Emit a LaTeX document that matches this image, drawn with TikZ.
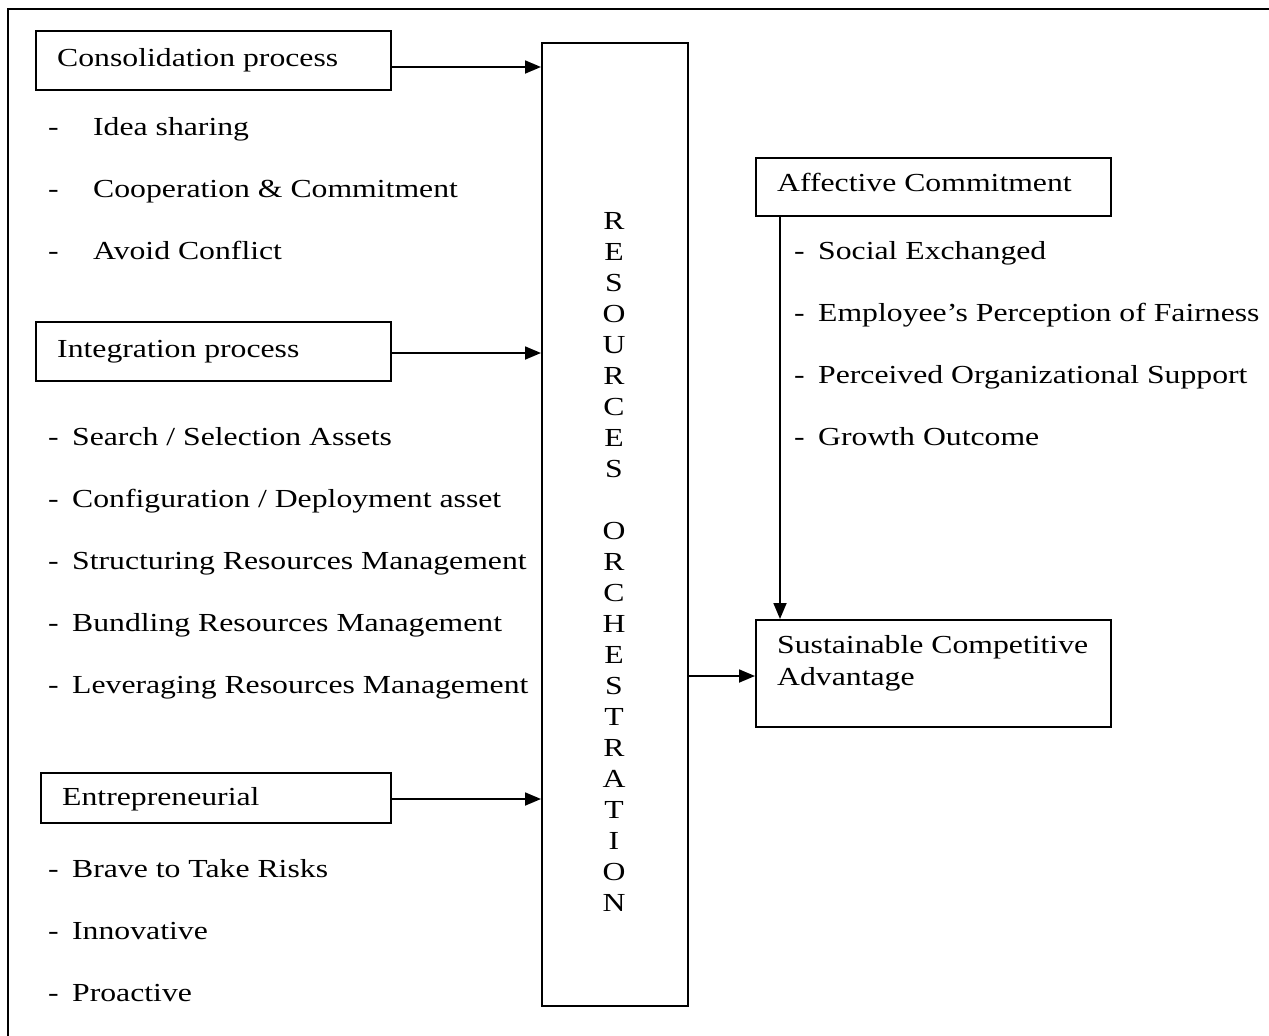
\documentclass[tikz,border=0pt]{standalone}
\usepackage{fontspec}
\setmainfont{Liberation Serif}[FakeStretch=1.22]
\usetikzlibrary{arrows.meta}
\tikzset{
  boxed/.style={draw, line width=1.8pt, inner sep=0pt, anchor=north west},
  txt/.style={anchor=base west, inner sep=0pt, font=\fontsize{26}{31}\selectfont},
  letter/.style={anchor=base, inner sep=0pt, font=\fontsize{26}{31}\selectfont},
  arr/.style={-{Triangle[length=16pt,width=13pt]}, line width=1.8pt},
  frame/.style={line width=1.8pt}
}
\begin{document}
\begin{tikzpicture}[x=1pt,y=-1pt]
\useasboundingbox (0,0) rectangle (1269,1036);
% outer frame
\coordinate (fbl) at (8,1036);
\coordinate (ftl) at (8,9);
\coordinate (ftr) at (1269,9);
\draw[frame] (fbl) -- (ftl) -- (ftr);

% boxes
\node[boxed, minimum width=355pt, minimum height=59pt] (cons) at (35,30) {};
\node[boxed, minimum width=355pt, minimum height=59pt] (integ) at (35,321) {};
\node[boxed, minimum width=350pt, minimum height=50pt] (entre) at (40,772) {};
\node[boxed, minimum width=146pt, minimum height=963pt] (ro) at (541,42) {};
\node[boxed, minimum width=355pt, minimum height=58pt] (aff) at (755,157) {};
\node[boxed, minimum width=355pt, minimum height=107pt] (sca) at (755,619) {};

% box texts
\node[txt] (cons-t) at (57,66) {Consolidation process};
\node[txt] (integ-t) at (57,357) {Integration process};
\node[txt] (entre-t) at (62,805) {Entrepreneurial};
\node[txt] (aff-t) at (777,191) {Affective Commitment};
\node[txt] (sca-t1) at (777,653) {Sustainable Competitive};
\node[txt] (sca-t2) at (777,685) {Advantage};

% list items group 1
\node[txt] (c1) at (48,135) {\makebox[45pt][l]{-}Idea sharing};
\node[txt] (c2) at (48,197) {\makebox[45pt][l]{-}Cooperation \& Commitment};
\node[txt] (c3) at (48,259) {\makebox[45pt][l]{-}Avoid Conflict};

% list items group 2
\node[txt] (i1) at (48,445) {\makebox[24pt][l]{-}Search / Selection Assets};
\node[txt] (i2) at (48,507) {\makebox[24pt][l]{-}Configuration / Deployment asset};
\node[txt] (i3) at (48,569) {\makebox[24pt][l]{-}Structuring Resources Management};
\node[txt] (i4) at (48,631) {\makebox[24pt][l]{-}Bundling Resources Management};
\node[txt] (i5) at (48,693) {\makebox[24pt][l]{-}Leveraging Resources Management};

% list items group 3
\node[txt] (e1) at (48,877) {\makebox[24pt][l]{-}Brave to Take Risks};
\node[txt] (e2) at (48,939) {\makebox[24pt][l]{-}Innovative};
\node[txt] (e3) at (48,1001) {\makebox[24pt][l]{-}Proactive};

% right list
\node[txt] (a1) at (794,259) {\makebox[24pt][l]{-}Social Exchanged};
\node[txt] (a2) at (794,321) {\makebox[24pt][l]{-}Employee’s Perception of Fairness};
\node[txt] (a3) at (794,383) {\makebox[24pt][l]{-}Perceived Organizational Support};
\node[txt] (a4) at (794,445) {\makebox[24pt][l]{-}Growth Outcome};

% vertical letters
\foreach \l [count=\k from 0] in {R,E,S,O,U,R,C,E,S}
  \node[letter] (roA-\k) at (614,229+31*\k) {\l};
\foreach \l [count=\k from 10] in {O,R,C,H,E,S,T,R,A,T,I,O,N}
  \node[letter] (roB-\k) at (614,229+31*\k) {\l};

% connectors
\draw[arr] (cons.east |- 0,67) -- (ro.west |- 0,67);
\draw[arr] (integ.east |- 0,353) -- (ro.west |- 0,353);
\draw[arr] (entre.east |- 0,799) -- (ro.west |- 0,799);
\draw[arr] (ro.east |- 0,676) -- (sca.west |- 0,676);
\draw[arr] (aff.south -| 780,0) -- (sca.north -| 780,0);
\end{tikzpicture}
\end{document}
